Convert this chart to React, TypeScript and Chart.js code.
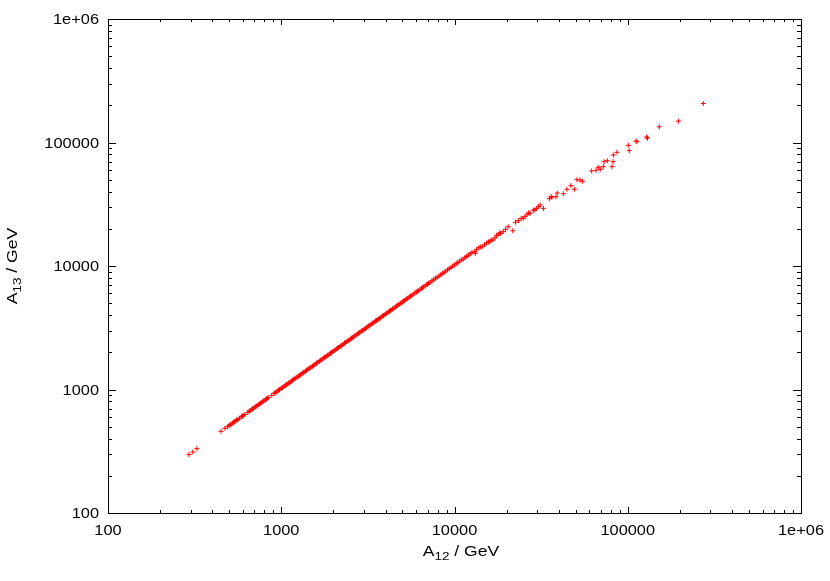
import React, { useEffect, useRef } from "react";
import { Chart, registerables } from "chart.js";

Chart.register(...registerables);

// Tick values and their labels (both axes share the same decades)
const tickValues = [100, 1000, 10000, 100000, 1000000];
const xTickLabels = ["100", "1000", "10000", "100000", "1e+06"];
const yTickLabels = ["100", "1000", "10000", "100000", "1e+06"];
const xTitleParts = ["A", "12", " / GeV"];
const yTitleParts = ["A", "13", " / GeV"];

// [A12, A13] pairs in GeV
const tailPoints: number[][] = [
  [293, 297], [309, 312], [326, 332], [449, 459], [473, 485],
];

const lowPoints: number[][] = [
  [490, 500], [501, 512], [507, 516], [513, 524], [525, 535], [531, 543], [537, 547],
  [550, 561], [556, 570], [562, 574], [575, 586], [589, 602], [596, 607], [603, 616],
  [617, 628], [641, 652],
  [653, 668], [661, 673], [676, 690], [684, 697], [692, 708], [708, 722], [716, 729],
  [724, 740], [741, 756], [750, 763], [759, 776], [776, 792], [785, 800], [794, 811],
  [813, 828], [822, 840], [832, 848], [841, 860], [881, 897],
];

const densePoints: number[][] = [
  [912, 930], [923, 947], [933, 952], [955, 972], [966, 991], [977, 996],
  [1000, 1018], [1012, 1034], [1023, 1046], [1047, 1065], [1059, 1087], [1072, 1092],
  [1096, 1116], [1109, 1134], [1122, 1147], [1148, 1166], [1161, 1192], [1175, 1198],
  [1202, 1224], [1216, 1245], [1230, 1257], [1259, 1280], [1274, 1307], [1288, 1313],
  [1318, 1342], [1334, 1365], [1349, 1379], [1380, 1403], [1396, 1432], [1413, 1441],
  [1445, 1472], [1462, 1496], [1479, 1511], [1514, 1540], [1531, 1571], [1549, 1580],
  [1585, 1613], [1603, 1642], [1622, 1658], [1660, 1688], [1679, 1722], [1698, 1733],
  [1738, 1770], [1758, 1799], [1778, 1817], [1820, 1851], [1841, 1889], [1862, 1900],
  [1905, 1940], [1927, 1973], [1950, 1992], [1995, 2030], [2018, 2071], [2042, 2083],
  [2089, 2128], [2113, 2164], [2138, 2184], [2188, 2225], [2213, 2270], [2239, 2285],
  [2291, 2333], [2317, 2373], [2344, 2395], [2399, 2440], [2427, 2490], [2455, 2505],
  [2512, 2558], [2541, 2604], [2570, 2625], [2630, 2676], [2661, 2728], [2692, 2748],
  [2754, 2804], [2786, 2855], [2818, 2879], [2884, 2935], [2917, 2991], [2951, 3012],
  [3020, 3075], [3055, 3130], [3090, 3157], [3162, 3218], [3199, 3280], [3236, 3303],
  [3311, 3371], [3350, 3432], [3388, 3461], [3467, 3528], [3508, 3597], [3548, 3622],
  [3631, 3697], [3673, 3763], [3715, 3795], [3802, 3869], [3846, 3943], [3890, 3971],
  [3981, 4053], [4027, 4126], [4074, 4161], [4169, 4243], [4217, 4323], [4266, 4355],
  [4365, 4444], [4416, 4525], [4467, 4562], [4571, 4652], [4624, 4740], [4677, 4775],
  [4786, 4872], [4842, 4963], [4898, 5003], [5012, 5102], [5070, 5197], [5129, 5238],
  [5248, 5343], [5309, 5441], [5370, 5484], [5495, 5594], [5559, 5698], [5623, 5742],
  [5754, 5858], [5888, 6035], [6026, 6133], [6095, 6249], [6166, 6296], [6310, 6424],
  [6457, 6619], [6531, 6650], [6607, 6773], [6761, 6882], [6918, 7092], [6998, 7124],
  [7079, 7257], [7244, 7375], [7413, 7599], [7586, 7723], [7762, 7957], [7943, 8086],
];

const spreadPoints: number[][] = [
  [8128, 8290], [8318, 8480], [8511, 8700], [8710, 8880], [8913, 9100], [9120, 9300],
  [9333, 9540], [9550, 9720], [9772, 9980], [10000, 10200], [10230, 10450], [10470, 10660],
  [10720, 10980], [11000, 11200], [11220, 11350], [11480, 11700], [11750, 11950],
  [12020, 12250], [12300, 12550], [12600, 12850], [13000, 13050], [13200, 12700],
  [13400, 13550], [13800, 14050], [14100, 14250], [14450, 14350], [14900, 14850],
  [15300, 15350], [15700, 15600], [16000, 15850], [16300, 16200], [16700, 16250],
  [17100, 16850], [17500, 17700], [18000, 18100], [18300, 18600], [18450, 18350],
  [19100, 18950], [19700, 19800], [20400, 20800], [21700, 19300], [22500, 22600],
  [23400, 23300], [24300, 24400], [24900, 24300], [25500, 25100], [26200, 26000],
  [26700, 26900], [27300, 26700], [28500, 28300], [29100, 28400], [29800, 29300],
  [30500, 30200], [31200, 31200], [32600, 29300],
];

const upperPoints: number[][] = [
  [35300, 35100], [36100, 36400], [36500, 36000], [38500, 36400], [39200, 39000],
  [42500, 38500], [44600, 41800], [47000, 44700], [49200, 41800], [50900, 50000],
  [53000, 49700], [54700, 48500], [61900, 58800], [65600, 59600], [67600, 63000],
  [69400, 60700], [72300, 63700], [73000, 69900], [76200, 71200], [81100, 63700],
  [82200, 69900], [82600, 79200], [86700, 83300], [100700, 94900], [102000, 85900],
  [111600, 102800], [113000, 101500], [128500, 110800], [130000, 108500],
  [152000, 134000], [196000, 149000], [273000, 207000],
];

const FONT = "'Liberation Sans', Arial, Helvetica, sans-serif";
const STRETCH = 1.17;

function drawStretched(ctx: CanvasRenderingContext2D, text: string, x: number, y: number, align: "left" | "right" | "center", size: number) {
  ctx.save();
  ctx.translate(x, y);
  ctx.scale(STRETCH, 1);
  ctx.font = `${size}px ${FONT}`;
  ctx.textAlign = align;
  ctx.textBaseline = "alphabetic";
  ctx.fillText(text, 0, 0);
  ctx.restore();
}

function drawTitle(ctx: CanvasRenderingContext2D, parts: string[], cx: number, cy: number, rotate: boolean) {
  const sizes = [15, 11.5, 15];
  const dys = [0, 4, 0];
  ctx.save();
  const widths = parts.map((p, i) => {
    ctx.font = `${sizes[i]}px ${FONT}`;
    return ctx.measureText(p).width * STRETCH;
  });
  const total = widths.reduce((a, b) => a + b, 0);
  ctx.translate(cx, cy);
  if (rotate) ctx.rotate(-Math.PI / 2);
  let x = -total / 2;
  parts.forEach((p, i) => {
    drawStretched(ctx, p, x, dys[i], "left", sizes[i]);
    x += widths[i];
  });
  ctx.restore();
}

const framePlugin = {
  id: "gnuframe",
  afterDatasetsDraw(chart: any) {
    const { ctx, chartArea: a, scales } = chart;
    const xs = scales.x;
    const ys = scales.y;
    ctx.save();
    ctx.strokeStyle = "#000";
    ctx.fillStyle = "#000";
    ctx.lineWidth = 1;
    ctx.beginPath();
    tickValues.forEach((base) => {
      for (let m = 1; m <= 9; m++) {
        const v = base * m;
        if (v > 1000000) break;
        const major = m === 1;
        const px = Math.round(xs.getPixelForValue(v)) + 0.5;
        const lx = major ? 6 : 3;
        ctx.moveTo(px, a.bottom);
        ctx.lineTo(px, a.bottom - lx);
        ctx.moveTo(px, a.top);
        ctx.lineTo(px, a.top + lx);
        const py = Math.round(ys.getPixelForValue(v)) + 0.5;
        const ly = major ? 8 : 4;
        ctx.moveTo(a.left, py);
        ctx.lineTo(a.left + ly, py);
        ctx.moveTo(a.right, py);
        ctx.lineTo(a.right - ly, py);
      }
    });
    ctx.stroke();
    ctx.strokeRect(a.left + 0.5, a.top + 0.5, a.right - a.left, a.bottom - a.top);

    tickValues.forEach((v, i) => {
      const px = xs.getPixelForValue(v);
      drawStretched(ctx, xTickLabels[i], px, a.bottom + 22, "center", 14);
      const py = ys.getPixelForValue(v);
      drawStretched(ctx, yTickLabels[i], a.left - 9, py + 5, "right", 14);
    });

    drawTitle(ctx, xTitleParts, 461, 556, false);
    drawTitle(ctx, yTitleParts, 17, 266, true);
    ctx.restore();
  },
};

function toXY(list: number[][]) {
  return list.map(([x, y]) => ({ x, y }));
}

export default function App() {
  const ref = useRef<HTMLCanvasElement>(null);
  useEffect(() => {
    document.body.style.margin = "0";
    document.body.style.overflow = "hidden";
    if (!ref.current) return;
    const all = [...tailPoints, ...lowPoints, ...densePoints, ...spreadPoints, ...upperPoints];
    const chart = new Chart(ref.current, {
      type: "scatter",
      data: {
        datasets: [
          {
            data: toXY(all),
            pointStyle: "cross",
            pointRadius: 2.5,
            pointBorderWidth: 1,
            borderColor: "#ff0000",
            backgroundColor: "#ff0000",
            showLine: false,
          },
        ],
      },
      options: {
        animation: false,
        responsive: false,
        events: [],
        layout: { padding: { left: 108, top: 19, right: 29, bottom: 68 } },
        plugins: { legend: { display: false }, tooltip: { enabled: false } },
        scales: {
          x: { type: "logarithmic", min: 100, max: 1000000, display: false },
          y: { type: "logarithmic", min: 100, max: 1000000, display: false },
        },
      },
      plugins: [framePlugin],
    });
    return () => chart.destroy();
  }, []);
  return <canvas ref={ref} width={830} height={581} style={{ display: "block" }} />;
}
